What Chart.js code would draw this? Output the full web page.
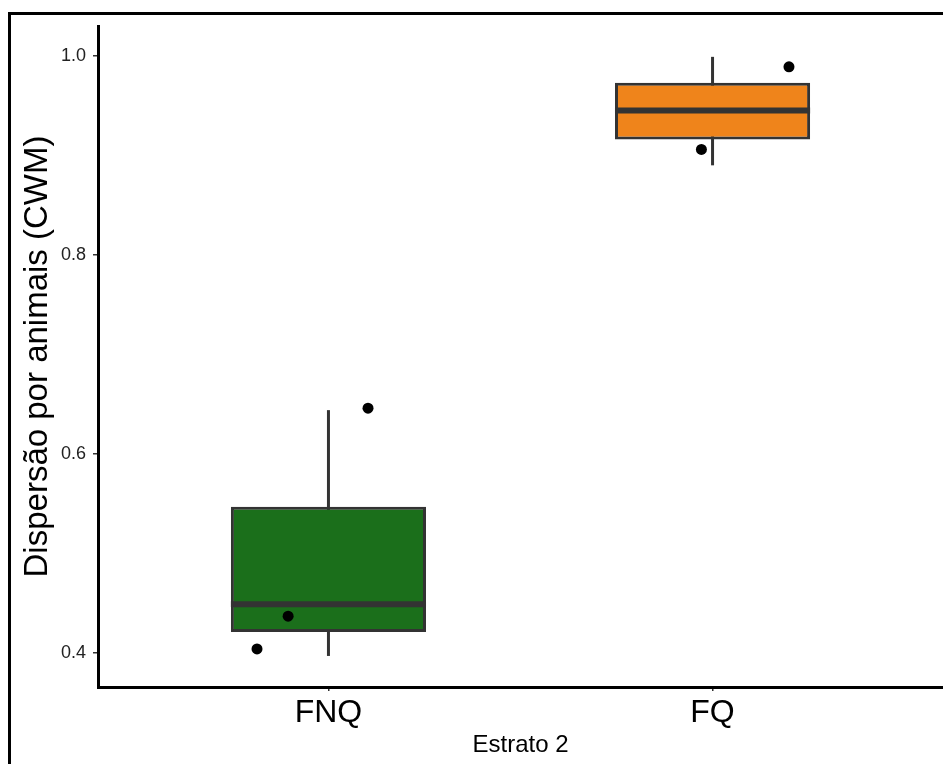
<!DOCTYPE html>
<html>
<head>
<meta charset="utf-8">
<script src="https://cdn.jsdelivr.net/npm/chart.js@4"></script>
<style>
  html, body { margin: 0; padding: 0; background: #fff; overflow: hidden; }
  #frame { position: absolute; left: 8px; top: 12px; width: 2000px; height: 2000px; border: 3px solid #000; }
  #wrap { position: absolute; left: 0; top: 0; width: 943px; height: 764px; }
</style>
</head>
<body>
<div id="frame"></div>
<div id="wrap"><canvas id="myChart" width="943" height="764"></canvas></div>
<script>
// box plot data
const groups = ['FNQ', 'FQ']
const groupPos = [1, 2]
const boxColors = ['#1b6f1b', '#ef841b']
const whiskerLow = [0.397, 0.890]
const q1 = [0.421, 0.916]
const median = [0.449, 0.945]
const q3 = [0.547, 0.973]
const whiskerHigh = [0.644, 0.999]

// jittered points
const pointX = [1.103, 0.895, 0.814, 2.199, 1.971]
const pointY = [0.646, 0.437, 0.404, 0.989, 0.906]

const yTicks = [0.4, 0.6, 0.8, 1.0]

const boxWidth = 0.508
const lineCol = '#333333'
const font = 'Liberation Sans, Arial, sans-serif'

let datasets = []

// points on top
datasets.push({
  type: 'scatter',
  data: pointX.map((x, i) => ({x: x, y: pointY[i]})),
  backgroundColor: '#000',
  borderWidth: 0,
  pointRadius: 5.5,
  order: 0
})

// medians
groupPos.forEach((p, i) => {
  datasets.push({
    type: 'line',
    data: [{x: p - boxWidth / 2, y: median[i]}, {x: p + boxWidth / 2, y: median[i]}],
    borderColor: lineCol,
    borderWidth: 6,
    pointRadius: 0,
    order: 1
  })
})

// boxes
datasets.push({
  type: 'bar',
  data: groupPos.map((p, i) => ({x: p, y: [q1[i], q3[i]]})),
  backgroundColor: boxColors,
  borderColor: lineCol,
  borderWidth: 3,
  borderSkipped: false,
  categoryPercentage: 1,
  barPercentage: boxWidth,
  order: 2
})

// whiskers behind the boxes
groupPos.forEach((p, i) => {
  datasets.push({
    type: 'line',
    data: [{x: p, y: whiskerLow[i]}, {x: p, y: whiskerHigh[i]}],
    borderColor: lineCol,
    borderWidth: 3,
    pointRadius: 0,
    order: 3
  })
})

new Chart('myChart', {
  type: 'bar',
  data: { datasets: datasets },
  options: {
    responsive: false,
    animation: false,
    layout: { autoPadding: false, padding: { top: 26, right: 0, left: 0, bottom: 0 } },
    plugins: { legend: {display: false}, tooltip: {enabled: false} },
    scales: {
      x: {
        type: 'linear',
        min: 0.4,
        max: 2.6,
        offset: false,
        afterBuildTicks: axis => { axis.ticks = groupPos.map(v => ({value: v})) },
        afterFit: axis => { axis.height = 77 },
        ticks: {
          callback: v => groups[groupPos.indexOf(v)],
          font: {family: font, size: 32},
          color: '#000',
          padding: 3
        },
        grid: { offset: false, drawOnChartArea: false, drawTicks: true, tickLength: 4, color: lineCol, lineWidth: 1.5 },
        border: { display: true, color: '#000', width: 3 },
        title: {
          display: true,
          text: 'Estrato 2',
          font: {family: font, size: 24},
          color: '#000',
          padding: {top: 0, bottom: 4}
        }
      },
      y: {
        min: 0.3658,
        max: 1.030,
        afterBuildTicks: axis => { axis.ticks = yTicks.map(v => ({value: v})) },
        afterFit: axis => { axis.width = 98 },
        ticks: {
          callback: v => v.toFixed(1),
          font: {family: font, size: 18},
          color: '#222',
          padding: 7
        },
        grid: { drawOnChartArea: false, drawTicks: true, tickLength: 5, color: lineCol, lineWidth: 1.5 },
        border: { display: true, color: '#000', width: 3 },
        title: {
          display: true,
          text: 'Dispersão por animais (CWM)',
          font: {family: font, size: 33},
          color: '#000',
          padding: {top: 18, bottom: 0}
        }
      }
    }
  }
})
</script>
</body>
</html>
